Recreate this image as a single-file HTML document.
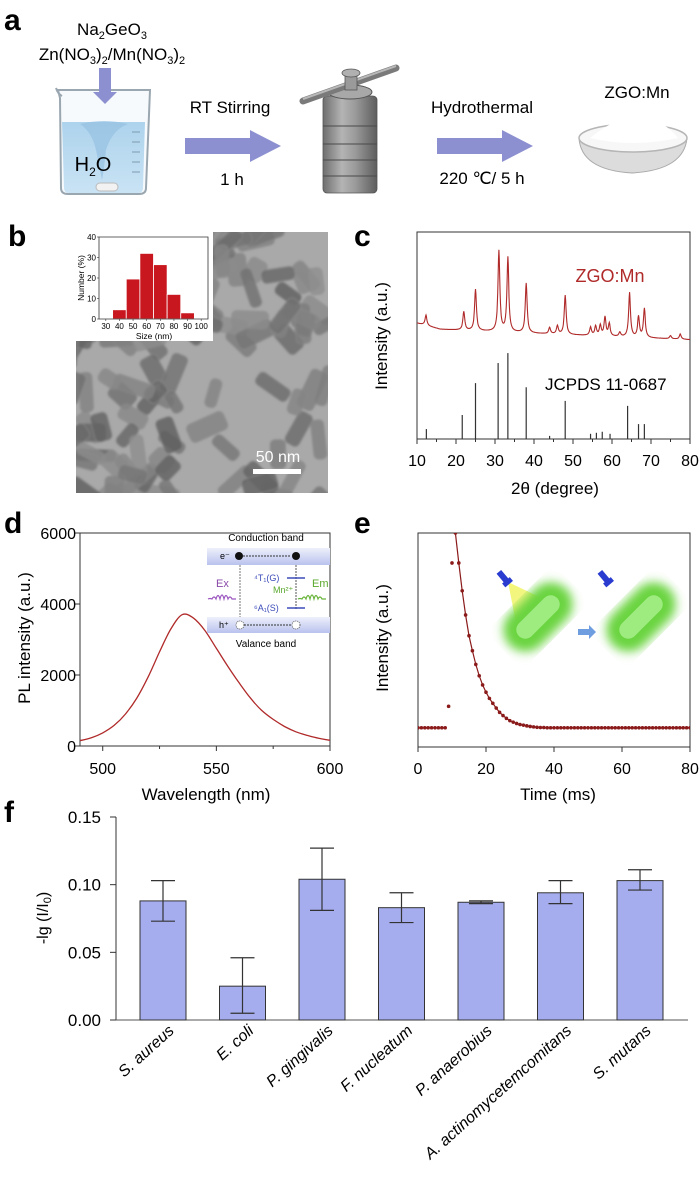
<!DOCTYPE html>
<html><head><meta charset="utf-8"><style>
html,body{margin:0;padding:0;background:#fff;}
svg{display:block;font-family:"Liberation Sans",Arial,sans-serif;}
</style></head><body>
<svg id="fig" width="700" height="1182" viewBox="0 0 700 1182" xmlns="http://www.w3.org/2000/svg">
<defs>
<linearGradient id="band" x1="0" y1="0" x2="0" y2="1"><stop offset="0" stop-color="#eef0fb"/><stop offset="1" stop-color="#b9c2ee"/></linearGradient>
<linearGradient id="metal" x1="0" y1="0" x2="1" y2="0"><stop offset="0" stop-color="#6e6e6e"/><stop offset="0.35" stop-color="#b4b4b4"/><stop offset="0.6" stop-color="#9a9a9a"/><stop offset="1" stop-color="#5d5d5d"/></linearGradient>
<linearGradient id="water" x1="0" y1="0" x2="0" y2="1"><stop offset="0" stop-color="#8ec3e6"/><stop offset="1" stop-color="#b9dcf2"/></linearGradient>
<linearGradient id="cone" x1="0" y1="0" x2="1" y2="1"><stop offset="0" stop-color="#f5f560"/><stop offset="1" stop-color="#d8ec40" stop-opacity="0.6"/></linearGradient>
<filter id="blur"><feGaussianBlur stdDeviation="5"/></filter>
<filter id="tblur"><feGaussianBlur stdDeviation="1"/></filter>
<clipPath id="temclip"><rect x="76" y="232" width="252" height="261"/></clipPath>
<clipPath id="eclip"><rect x="418" y="533" width="272" height="214"/></clipPath>
</defs>

<!-- ===== Panel a ===== -->
<g>
<text x="4" y="30" font-size="30" font-weight="bold">a</text>
<text x="112" y="35" font-size="17" text-anchor="middle">Na<tspan font-size="11" dy="4">2</tspan><tspan dy="-4">GeO</tspan><tspan font-size="11" dy="4">3</tspan></text>
<text x="112" y="60" font-size="17" text-anchor="middle">Zn(NO<tspan font-size="11" dy="4">3</tspan><tspan dy="-4">)</tspan><tspan font-size="11" dy="4">2</tspan><tspan dy="-4">/Mn(NO</tspan><tspan font-size="11" dy="4">3</tspan><tspan dy="-4">)</tspan><tspan font-size="11" dy="4">2</tspan></text>
<g>
<path d="M62 122 L145 122 L143 188 Q143 193 138 193 L69 193 Q64 193 64 188 Z" fill="url(#water)"/>
<path d="M80 124 Q104 118 128 124 Q112 130 106 150 Q104 170 102 180 Q98 160 96 150 Q92 132 80 124 Z" fill="#6aa8d6" opacity="0.7"/>
<path d="M58 90 L150 90 L146 188 Q146 194 139 194 L68 194 Q61 194 61 188 L60 98 Z" fill="#e9f2f8" fill-opacity="0.35" stroke="#9aa7b0" stroke-width="2"/>
<path d="M56 88 Q58 94 62 96" fill="none" stroke="#9aa7b0" stroke-width="2"/>
<g stroke="#7f9bb0" stroke-width="1"><line x1="132" y1="132" x2="140" y2="132"/><line x1="132" y1="142" x2="140" y2="142"/><line x1="132" y1="152" x2="140" y2="152"/><line x1="132" y1="162" x2="140" y2="162"/><line x1="132" y1="172" x2="140" y2="172"/></g>
<rect x="96" y="183" width="22" height="8" rx="4" fill="#f2f2f2" stroke="#bbb"/>
<text x="93" y="171" font-size="20" text-anchor="middle">H<tspan font-size="12" dy="5">2</tspan><tspan dy="-5">O</tspan></text>
</g>
<path d="M99 68 L111 68 L111 92 L117 92 L105 104 L93 92 L99 92 Z" fill="#8c90d0"/>
<path d="M185 138 L250 138 L250 130 L281 146 L250 162 L250 154 L185 154 Z" fill="#8c90d0"/>
<text x="230" y="113" font-size="17" text-anchor="middle">RT Stirring</text>
<text x="232" y="185" font-size="17" text-anchor="middle">1 h</text>
<g>
<rect x="323" y="96" width="54" height="97" rx="4" fill="url(#metal)" stroke="#555" stroke-width="0.8"/>
<g stroke="#4a4a4a" stroke-width="1"><line x1="323" y1="126" x2="377" y2="126"/><line x1="323" y1="144" x2="377" y2="144"/><line x1="323" y1="160" x2="377" y2="160"/><line x1="323" y1="176" x2="377" y2="176"/></g>
<ellipse cx="350" cy="92" rx="22" ry="7" fill="#a8a8a8" stroke="#555"/>
<line x1="303" y1="101" x2="396" y2="68" stroke="#7a7a7a" stroke-width="7" stroke-linecap="round"/>
<line x1="303" y1="99" x2="396" y2="66" stroke="#b8b8b8" stroke-width="2"/>
<rect x="345" y="74" width="12" height="16" fill="#9a9a9a" stroke="#555" stroke-width="0.8"/>
<ellipse cx="351" cy="73" rx="9" ry="4" fill="#b0b0b0" stroke="#555" stroke-width="0.8"/>
</g>
<path d="M437 138 L502 138 L502 130 L533 146 L502 162 L502 154 L437 154 Z" fill="#8c90d0"/>
<text x="482" y="113" font-size="17" text-anchor="middle">Hydrothermal</text>
<text x="482" y="184" font-size="17" text-anchor="middle">220 ℃/ 5 h</text>
<text x="637" y="98" font-size="17" text-anchor="middle">ZGO:Mn</text>
<g>
<path d="M579 138 Q581 170 632 173 Q684 170 687 138 Z" fill="#dcdcdc" stroke="#aaa"/>
<ellipse cx="633" cy="138" rx="54" ry="14" fill="#f7f7f7" stroke="#b5b5b5" stroke-width="1.5"/>
<path d="M590 138 Q615 118 640 112 Q665 122 678 138 Q633 148 590 138 Z" fill="#ffffff"/>
</g>
</g>

<!-- ===== Panel b ===== -->
<g>
<text x="8" y="246" font-size="30" font-weight="bold">b</text>
<g clip-path="url(#temclip)">
<rect x="76" y="232" width="252" height="261" fill="#a9a9a9"/>
<g id="rods" filter="url(#tblur)"></g>
<rect x="253" y="469" width="48" height="5" fill="#fff"/>
<text x="278" y="462" font-size="16" fill="#fff" text-anchor="middle">50 nm</text>
</g>
<g>
<rect x="76" y="232" width="137" height="109" fill="#fff"/>
<g id="hist"></g>
</g>
</g>

<!-- ===== Panel c ===== -->
<g>
<text x="354" y="246" font-size="30" font-weight="bold">c</text>
<g id="xrd"></g>
</g>

<!-- ===== Panel d ===== -->
<g>
<text x="4" y="533" font-size="30" font-weight="bold">d</text>
<g id="pl"></g>
<g font-size="9">
<text x="266" y="541" text-anchor="middle" font-size="10">Conduction band</text>
<rect x="207" y="548" width="123" height="17" fill="url(#band)"/>
<text x="220" y="559" font-size="9">e⁻</text>
<circle cx="239" cy="556" r="4" fill="#111"/><circle cx="296" cy="556" r="4" fill="#111"/>
<line x1="243" y1="556" x2="291" y2="556" stroke="#333" stroke-dasharray="2,1"/>
<line x1="240" y1="565" x2="240" y2="617" stroke="#777" stroke-dasharray="2,1"/>
<line x1="296" y1="565" x2="296" y2="610" stroke="#555" stroke-dasharray="2,1"/>
<text x="254" y="581" fill="#3b4bb8">⁴T₁(G)</text>
<line x1="287" y1="578" x2="305" y2="578" stroke="#3b4bb8" stroke-width="1.5"/>
<text x="273" y="593" fill="#5aa82d">Mn²⁺</text>
<text x="254" y="611" fill="#3b4bb8">⁶A₁(S)</text>
<line x1="287" y1="608" x2="305" y2="608" stroke="#3b4bb8" stroke-width="1.5"/>
<text x="216" y="587" fill="#8a4aa8" font-size="11">Ex</text>
<path d="M208 599 q2 -1 4 0 q2 -4 4 0 q2 -7 4 0 q2 -8 4 0 q2 -7 4 0 q2 -4 4 0 l4 0" fill="none" stroke="#9c58c0" stroke-width="1.2"/>
<text x="312" y="587" fill="#5aa82d" font-size="11">Em</text>
<path d="M298 599 q2 -1 4 0 q2 -4 4 0 q2 -7 4 0 q2 -8 4 0 q2 -7 4 0 q2 -4 4 0 l4 0" fill="none" stroke="#68b43a" stroke-width="1.2"/>
<rect x="207" y="617" width="123" height="16" fill="url(#band)"/>
<text x="219" y="628" font-size="9">h⁺</text>
<circle cx="240" cy="625" r="4" fill="#fff" stroke="#666" stroke-dasharray="1,1"/><circle cx="296" cy="625" r="4" fill="#fff" stroke="#666" stroke-dasharray="1,1"/>
<line x1="244" y1="625" x2="291" y2="625" stroke="#333" stroke-dasharray="2,1"/>
<text x="266" y="647" text-anchor="middle" font-size="10">Valance band</text>
</g>
</g>

<!-- ===== Panel e ===== -->
<g>
<text x="354" y="533" font-size="30" font-weight="bold">e</text>
<g>
<polygon points="508,582 548,601 518,633" fill="url(#cone)" opacity="0.85"/>
<g transform="translate(538,617) rotate(-45)"><rect x="-40" y="-22" width="80" height="44" rx="22" fill="#6ad440" filter="url(#blur)"/><rect x="-27" y="-9" width="54" height="18" rx="9" fill="#9eec80"/></g>
<g transform="translate(641,617) rotate(-45)"><rect x="-40" y="-22" width="80" height="44" rx="22" fill="#6ad440" filter="url(#blur)"/><rect x="-27" y="-9" width="54" height="18" rx="9" fill="#9eec80"/></g>
<g transform="translate(504,578) rotate(-40)" fill="#2a3bd0"><rect x="-3" y="-8" width="6" height="12"/><rect x="-5" y="3" width="10" height="5"/></g>
<g transform="translate(605,578) rotate(-40)" fill="#2a3bd0"><rect x="-3" y="-8" width="6" height="12"/><rect x="-5" y="3" width="10" height="5"/></g>
<path d="M578 629 L589 629 L589 625 L596 632 L589 639 L589 635 L578 635 Z" fill="#6e9ee0"/>
</g>
<g id="decay"></g>
</g>

<!-- ===== Panel f ===== -->
<g>
<text x="4" y="822" font-size="30" font-weight="bold">f</text>
<g id="bars"></g>
</g>
</svg>

<script>
// ---------- DATA ----------
const histBins = [40, 50, 60, 70, 80, 90];
const histValues = [4.5, 19.5, 32, 26.5, 12, 3];
const histXTicks = [30, 40, 50, 60, 70, 80, 90, 100];
const histYTicks = [0, 10, 20, 30, 40];
const xrdPeakPos = [12.3, 22.0, 25.0, 31.0, 33.3, 38.0, 44.0, 46.0, 48.0, 54.5, 55.8, 57.0, 58.2, 59.3, 62.0, 64.5, 66.8, 68.3, 75.0, 77.5];
const xrdPeakHeight = [5, 9, 20, 39, 36, 24, 3, 4, 19, 4, 4.5, 5, 9, 6, 2, 21.5, 10, 14, 1.5, 2.5];
const xrdBasePos = [10, 16, 40, 80];
const xrdBaseVal = [56, 53, 51, 48];
const refPos = [12.4, 21.6, 25.0, 30.8, 33.3, 38.0, 44.0, 48.0, 54.5, 56.0, 57.5, 59.5, 64.0, 66.8, 68.3];
const refVal = [4.8, 11.6, 27, 36.7, 41.5, 25, 1.5, 18.4, 2.5, 3, 3.5, 2.5, 16, 7.2, 7.2];
const xrdXTicks = [10, 20, 30, 40, 50, 60, 70, 80];
const plWave = [490,495,500,505,510,515,520,525,530,535,540,545,550,555,560,565,570,575,580,585,590,595,600];
const plInt = [150,230,370,580,900,1350,1950,2650,3300,3700,3600,3250,2750,2250,1780,1350,1000,750,550,400,300,220,160];
const plXTicks = [500, 550, 600];
const plYTicks = [0, 2000, 4000, 6000];
const decayTime = [0,1,2,3,4,5,6,7,8,9,10,11,12,13,14,15,16,17,18,19,20,21,22,23,24,25,26,27,28,29,30,31,32,33,34,35,36,37,38,39,40,41,42,43,44,45,46,47,48,49,50,51,52,53,54,55,56,57,58,59,60,61,62,63,64,65,66,67,68,69,70,71,72,73,74,75,76,77,78,79,80];
const decayInt = [9,9,9,9,9,9,9,9,9,19,86,100,86,73,61.7,52,45,38.6,33.3,29,25.6,22.7,20.4,18.2,16.2,14.7,13.4,12.3,11.6,11,10.5,10.2,9.9,9.6,9.4,9.2,9.1,9.1,9,9,9,9,9,9,9,9,9,9,9,9,9,9,9,9,9,9,9,9,9,9,9,9,9,9,9,9,9,9,9,9,9,9,9,9,9,9,9,9,9,9,9];
const fitTime = [11,12,13,14,15,16,17,18,19,20,21,22,23,24,25,26,27,28,29,30,31,32,33,34,35,36,38,40,45,50,60,70,80];
const fitInt = [100,86,73,61.7,52,45,38.6,33.3,29,25.6,22.7,20.4,18.2,16.2,14.7,13.4,12.3,11.6,11,10.5,10.2,9.9,9.6,9.4,9.2,9.1,9,9,9,9,9,9,9];
const decayXTicks = [0, 20, 40, 60, 80];
const bacteria = ["S. aureus","E. coli","P. gingivalis","F. nucleatum","P. anaerobius","A. actinomycetemcomitans","S. mutans"];
const barValues = [0.088, 0.025, 0.104, 0.083, 0.087, 0.094, 0.103];
const errLow = [0.073, 0.005, 0.081, 0.072, 0.086, 0.086, 0.096];
const errHigh = [0.103, 0.046, 0.127, 0.094, 0.088, 0.103, 0.111];
const barYTicks = [0.00, 0.05, 0.10, 0.15];
const barYTickLabels = ["0.00", "0.05", "0.10", "0.15"];

const NS = "http://www.w3.org/2000/svg";
function mk(parent, tag, attrs, text) {
  const el = document.createElementNS(NS, tag);
  for (const k in attrs) el.setAttribute(k, attrs[k]);
  if (text !== undefined) el.textContent = text;
  parent.appendChild(el);
  return el;
}
function lin(d0, d1, r0, r1) { return v => r0 + (v - d0) * (r1 - r0) / (d1 - d0); }

// ---------- TEM texture ----------
(function () {
  const g = document.getElementById('rods');
  let s = 12345;
  const rnd = () => { s = (s * 16807) % 2147483647; return s / 2147483647; };
  for (let i = 0; i < 160; i++) {
    const cx = 70 + rnd() * 265, cy = 226 + rnd() * 275;
    const inClear = (cx > 175 && cx < 295 && cy > 345 && cy < 475) || (cx > 270 && cy > 232 && cy < 262);
    if (inClear && rnd() < 0.9) continue;
    const w = 22 + rnd() * 20, h = 12 + rnd() * 8, a = rnd() * 180;
    const c = Math.floor(95 + rnd() * 50);
    const r = mk(g, 'rect', { x: cx - w / 2, y: cy - h / 2, width: w, height: h, rx: 5, fill: `rgb(${c},${c},${c})`, opacity: 0.8, stroke: '#8a8a8a', 'stroke-width': 0.8, transform: `rotate(${a} ${cx} ${cy})` });
    
    
  }
})();

// ---------- b: histogram ----------
(function () {
  const g = document.getElementById('hist');
  const x = lin(25, 105, 99, 208), y = lin(0, 40, 319, 237);
  histBins.forEach((b, i) => {
    const r = mk(g, 'rect', { x: x(b - 5), y: y(histValues[i]), width: x(b + 5) - x(b - 5), height: y(0) - y(histValues[i]), fill: '#c8171e', stroke: '#fff', 'stroke-width': 0.8 });
    
    
  });
  mk(g, 'path', { d: `M99 237 V319 H208 V237 Z`, fill: 'none', stroke: '#333', 'stroke-width': 0.8 });
  histXTicks.forEach(t => {
    mk(g, 'line', { x1: x(t), y1: 319, x2: x(t), y2: 321, stroke: '#333', 'stroke-width': 0.6 });
    const tx = mk(g, 'text', { x: x(t), y: 329, 'font-size': 8, 'text-anchor': 'middle' }, t);
    
    
  });
  histYTicks.forEach(t => {
    mk(g, 'line', { x1: 97, y1: y(t), x2: 99, y2: y(t), stroke: '#333', 'stroke-width': 0.6 });
    mk(g, 'text', { x: 96, y: y(t) + 3, 'font-size': 8, 'text-anchor': 'end' }, t);
  });
  mk(g, 'text', { x: 154, y: 339, 'font-size': 8.5, 'text-anchor': 'middle' }, 'Size (nm)');
  mk(g, 'text', { x: 84, y: 278, 'font-size': 8.5, 'text-anchor': 'middle', transform: 'rotate(-90 84 278)' }, 'Number (%)');
})();

// ---------- c: XRD ----------
(function () {
  const g = document.getElementById('xrd');
  const L = 417, R = 690, T = 232, B = 439;
  const x = lin(10, 80, L, R), y = lin(0, 100, B, T);
  mk(g, 'rect', { x: L, y: T, width: R - L, height: B - T, fill: 'none', stroke: '#333', 'stroke-width': 1 });
  function base(t) {
    for (let i = 0; i < xrdBasePos.length - 1; i++) if (t <= xrdBasePos[i + 1]) return xrdBaseVal[i] + (t - xrdBasePos[i]) * (xrdBaseVal[i + 1] - xrdBaseVal[i]) / (xrdBasePos[i + 1] - xrdBasePos[i]);
    return xrdBaseVal[xrdBaseVal.length - 1];
  }
  let d = '';
  for (let t = 10; t <= 80.001; t += 0.1) {
    let v = base(t);
    xrdPeakPos.forEach((p, i) => { const w = 0.28; v += xrdPeakHeight[i] / (1 + ((t - p) / w) ** 2); });
    d += (d ? 'L' : 'M') + x(t).toFixed(1) + ' ' + y(v).toFixed(1);
  }
  const tr = mk(g, 'path', { d, fill: 'none', stroke: '#b02a2a', 'stroke-width': 1.1 });
  
  
  refPos.forEach((p, i) => {
    const l = mk(g, 'line', { x1: x(p), y1: B, x2: x(p), y2: y(refVal[i]), stroke: '#333', 'stroke-width': 1.2 });
    
    
  });
  xrdXTicks.forEach(t => {
    mk(g, 'line', { x1: x(t), y1: B, x2: x(t), y2: B + 5, stroke: '#333' });
    if (t < 80) mk(g, 'line', { x1: x(t + 5), y1: B, x2: x(t + 5), y2: B + 3, stroke: '#333' });
    const tx = mk(g, 'text', { x: x(t), y: B + 27, 'font-size': 16, 'text-anchor': 'middle' }, t);
    
    
  });
  mk(g, 'text', { x: 555, y: 494, 'font-size': 17, 'text-anchor': 'middle' }, '2θ (degree)');
  mk(g, 'text', { x: 387, y: 336, 'font-size': 17, 'text-anchor': 'middle', transform: 'rotate(-90 387 336)' }, 'Intensity (a.u.)');
  mk(g, 'text', { x: 610, y: 282, 'font-size': 18, 'text-anchor': 'middle', fill: '#b02a2a' }, 'ZGO:Mn');
  mk(g, 'text', { x: 545, y: 390, 'font-size': 17 }, 'JCPDS 11-0687');
})();

// ---------- d: PL ----------
(function () {
  const g = document.getElementById('pl');
  const L = 80, R = 330, T = 533, B = 746;
  const x = lin(490, 600, L, R), y = lin(0, 6000, B, T);
  mk(g, 'rect', { x: L, y: T, width: R - L, height: B - T, fill: 'none', stroke: '#333', 'stroke-width': 1 });
  let d = '';
  for (let i = 0; i < plWave.length; i++) {
    const px = x(plWave[i]), py = y(plInt[i]);
    if (i === 0) d = `M${px} ${py}`;
    else {
      const p0 = [x(plWave[Math.max(i - 2, 0)]), y(plInt[Math.max(i - 2, 0)])], p1 = [x(plWave[i - 1]), y(plInt[i - 1])], p3 = [x(plWave[Math.min(i + 1, plWave.length - 1)]), y(plInt[Math.min(i + 1, plWave.length - 1)])];
      const c1 = [p1[0] + (px - p0[0]) / 6, p1[1] + (py - p0[1]) / 6], c2 = [px - (p3[0] - p1[0]) / 6, py - (p3[1] - p1[1]) / 6];
      d += `C${c1[0].toFixed(1)} ${c1[1].toFixed(1)} ${c2[0].toFixed(1)} ${c2[1].toFixed(1)} ${px.toFixed(1)} ${py.toFixed(1)}`;
    }
  }
  const c = mk(g, 'path', { d, fill: 'none', stroke: '#b02a2a', 'stroke-width': 1.3 });
  
  
  plXTicks.forEach(t => {
    mk(g, 'line', { x1: x(t), y1: B, x2: x(t), y2: B + 5, stroke: '#333' });
    const tx = mk(g, 'text', { x: x(t), y: B + 28, 'font-size': 16, 'text-anchor': 'middle' }, t);
    
    
  });
  [525, 575].forEach(t => mk(g, 'line', { x1: x(t), y1: B, x2: x(t), y2: B + 3, stroke: '#333' }));
  plYTicks.forEach(t => {
    mk(g, 'line', { x1: L - 5, y1: y(t), x2: L, y2: y(t), stroke: '#333' });
    const tx = mk(g, 'text', { x: L - 4, y: y(t) + 6, 'font-size': 16, 'text-anchor': 'end' }, t);
    
    
  });
  mk(g, 'text', { x: 206, y: 800, 'font-size': 17, 'text-anchor': 'middle' }, 'Wavelength (nm)');
  mk(g, 'text', { x: 30, y: 638, 'font-size': 17, 'text-anchor': 'middle', transform: 'rotate(-90 30 638)' }, 'PL intensity (a.u.)');
})();

// ---------- e: decay ----------
(function () {
  const g = document.getElementById('decay');
  const L = 418, R = 690, T = 533, B = 747;
  const x = lin(0, 80, L, R), y = lin(0, 100, B, T);
  mk(g, 'rect', { x: L, y: T, width: R - L, height: B - T, fill: 'none', stroke: '#333', 'stroke-width': 1 });
  const cg = mk(g, 'g', { 'clip-path': 'url(#eclip)' });
  const fl = mk(cg, 'polyline', { points: fitTime.map((t, i) => x(t).toFixed(1) + ',' + y(fitInt[i]).toFixed(1)).join(' '), fill: 'none', stroke: '#8b1a1a', 'stroke-width': 1.2 });
  
  
  decayTime.forEach((t, i) => {
    const p = mk(cg, 'circle', { cx: x(t), cy: y(decayInt[i]), r: 1.8, fill: '#8b1a1a' });
    
    
  });
  decayXTicks.forEach(t => {
    mk(g, 'line', { x1: x(t), y1: B, x2: x(t), y2: B + 5, stroke: '#333' });
    const tx = mk(g, 'text', { x: x(t), y: B + 27, 'font-size': 16, 'text-anchor': 'middle' }, t);
    
    
  });
  mk(g, 'text', { x: 558, y: 800, 'font-size': 17, 'text-anchor': 'middle' }, 'Time (ms)');
  mk(g, 'text', { x: 388, y: 638, 'font-size': 17, 'text-anchor': 'middle', transform: 'rotate(-90 388 638)' }, 'Intensity (a.u.)');
})();

// ---------- f: bars ----------
(function () {
  const g = document.getElementById('bars');
  const L = 116, R = 688, B = 1020, T = 817;
  const y = lin(0, 0.15, B, T);
  const step = 79.5, first = 163, bw = 46;
  const xc = i => first + i * step;
  mk(g, 'line', { x1: L, y1: T, x2: L, y2: B, stroke: '#333' });
  mk(g, 'line', { x1: L, y1: B, x2: R, y2: B, stroke: '#555' });
  barYTicks.forEach((t, i) => {
    mk(g, 'line', { x1: L - 6, y1: y(t), x2: L, y2: y(t), stroke: '#333' });
    const tx = mk(g, 'text', { x: L - 15, y: y(t) + 6, 'font-size': 17, 'text-anchor': 'end' }, barYTickLabels[i]);
    
    
  });
  bacteria.forEach((name, i) => {
    const b = mk(g, 'rect', { x: xc(i) - bw / 2, y: y(barValues[i]), width: bw, height: y(0) - y(barValues[i]), fill: '#a6adee', stroke: '#333', 'stroke-width': 1 });
    
    
    const e = mk(g, 'path', { d: `M${xc(i)} ${y(errLow[i])}V${y(errHigh[i])}M${xc(i) - 12} ${y(errHigh[i])}H${xc(i) + 12}M${xc(i) - 12} ${y(errLow[i])}H${xc(i) + 12}`, fill: 'none', stroke: '#333', 'stroke-width': 1.2 });
    
    
    const ax = xc(i) + 12, ay = 1032;
    const tx = mk(g, 'text', { x: ax, y: ay, 'font-size': 16, 'font-style': 'italic', 'text-anchor': 'end', transform: `rotate(-42 ${ax} ${ay})` }, name);
    
    
  });
  mk(g, 'text', { x: 48, y: 918, 'font-size': 16, 'text-anchor': 'middle', transform: 'rotate(-90 48 918)' }).innerHTML = '-lg (I/I<tspan font-size="11" dy="3">0</tspan><tspan dy="-3">)</tspan>';
})();
</script>
</body></html>
